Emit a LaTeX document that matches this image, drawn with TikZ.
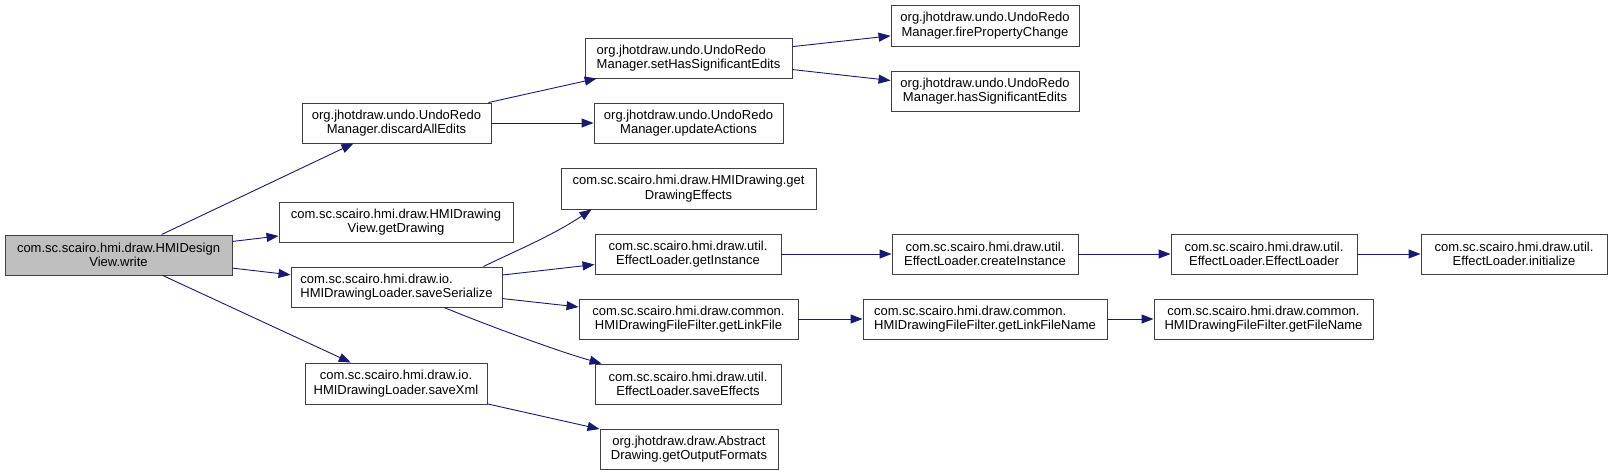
\documentclass[tikz,border=0pt]{standalone}
\usepackage{fontspec}
\setmainfont{Liberation Sans}
\usepackage{xcolor}
\usepackage{tikz}
\usetikzlibrary{arrows.meta}
\definecolor{edgeblue}{RGB}{25,25,112}
\definecolor{callgray}{RGB}{191,191,191}

\begin{document}
\begin{tikzpicture}[
    x=1pt, y=-1pt,
    box/.style={draw=black!75, rectangle, minimum height=40pt, inner sep=1pt, align=center, fill=white, line width=0.9pt, font=\fontsize{13}{14.5}\selectfont},
    line/.style={draw=edgeblue, ->, >={Triangle[length=12pt, width=9pt]}, line width=0.9pt}
]
    \useasboundingbox (0,0) rectangle (1612,476);

    % Nodes
    \node[box, fill=callgray, minimum width=227pt] (write) at (118.5,255) {com.sc.scairo.hmi.draw.HMIDesign\\View.write};
    \node[box, minimum width=189pt] (discard) at (396.5,123) {org.jhotdraw.undo.UndoRedo\\Manager.discardAllEdits};
    \node[box, minimum width=234pt] (getdraw) at (396,222) {com.sc.scairo.hmi.draw.HMIDrawing\\View.getDrawing};
    \node[box, align=left, minimum width=211pt] (saveser) at (396.5,287) {com.sc.scairo.hmi.draw.io.\\HMIDrawingLoader.saveSerialize};
    \node[box, minimum width=182pt, minimum height=41pt] (savexml) at (396,383.5) {com.sc.scairo.hmi.draw.io.\\HMIDrawingLoader.saveXml};
    \node[box, align=left, minimum width=207pt] (sethas) at (688.5,58) {org.jhotdraw.undo.UndoRedo\\Manager.setHasSignificantEdits};
    \node[box, minimum width=189pt] (update) at (688.5,123) {org.jhotdraw.undo.UndoRedo\\Manager.updateActions};
    \node[box, minimum width=188pt, minimum height=41pt] (fireprop) at (985,25.5) {org.jhotdraw.undo.UndoRedo\\Manager.firePropertyChange};
    \node[box, minimum width=188pt] (hassig) at (985,91) {org.jhotdraw.undo.UndoRedo\\Manager.hasSignificantEdits};
    \node[box, minimum width=255pt, minimum height=41pt] (geteff) at (688.5,188.5) {com.sc.scairo.hmi.draw.HMIDrawing.get\\DrawingEffects};
    \node[box, minimum width=186pt] (getinst) at (688,254) {com.sc.scairo.hmi.draw.util.\\EffectLoader.getInstance};
    \node[box, minimum width=219pt] (linkfile) at (688.5,319) {com.sc.scairo.hmi.draw.common.\\HMIDrawingFileFilter.getLinkFile};
    \node[box, minimum width=186pt] (saveeff) at (688,384) {com.sc.scairo.hmi.draw.util.\\EffectLoader.saveEffects};
    \node[box, minimum width=178pt] (outfmt) at (689,449) {org.jhotdraw.draw.Abstract\\Drawing.getOutputFormats};
    \node[box, minimum width=186pt] (create) at (985,254) {com.sc.scairo.hmi.draw.util.\\EffectLoader.createInstance};
    \node[box, align=left, minimum width=244pt] (linkname) at (985,319) {com.sc.scairo.hmi.draw.common.\\HMIDrawingFileFilter.getLinkFileName};
    \node[box, minimum width=186pt] (effload) at (1264,254) {com.sc.scairo.hmi.draw.util.\\EffectLoader.EffectLoader};
    \node[box, minimum width=219pt] (filename) at (1263.5,319) {com.sc.scairo.hmi.draw.common.\\HMIDrawingFileFilter.getFileName};
    \node[box, minimum width=186pt] (init) at (1514,254) {com.sc.scairo.hmi.draw.util.\\EffectLoader.initialize};

    % Connections
    \draw[line] (write) -- (discard);
    \draw[line] (write) -- (getdraw);
    \draw[line] (write) -- (saveser);
    \draw[line] (write) -- (savexml);
    \draw[line] (discard) -- (sethas);
    \draw[line] (discard) -- (update);
    \draw[line] (sethas) -- (fireprop);
    \draw[line] (sethas) -- (hassig);
    \draw[line] ([xshift=-19pt]saveser.north east) .. controls (513,252) and (552,236) .. ([xshift=31pt]geteff.south west);
    \draw[line] (saveser) -- (getinst);
    \draw[line] (saveser) -- (linkfile);
    \draw[line] ([xshift=47.5pt]saveser.south) .. controls (484,324) and (557,351) .. ([xshift=7pt]saveeff.north west);
    \draw[line] (savexml) -- (outfmt);
    \draw[line] (getinst) -- (create);
    \draw[line] (linkfile) -- (linkname);
    \draw[line] (create) -- (effload);
    \draw[line] (effload) -- (init);
    \draw[line] (linkname) -- (filename);
\end{tikzpicture}
\end{document}
